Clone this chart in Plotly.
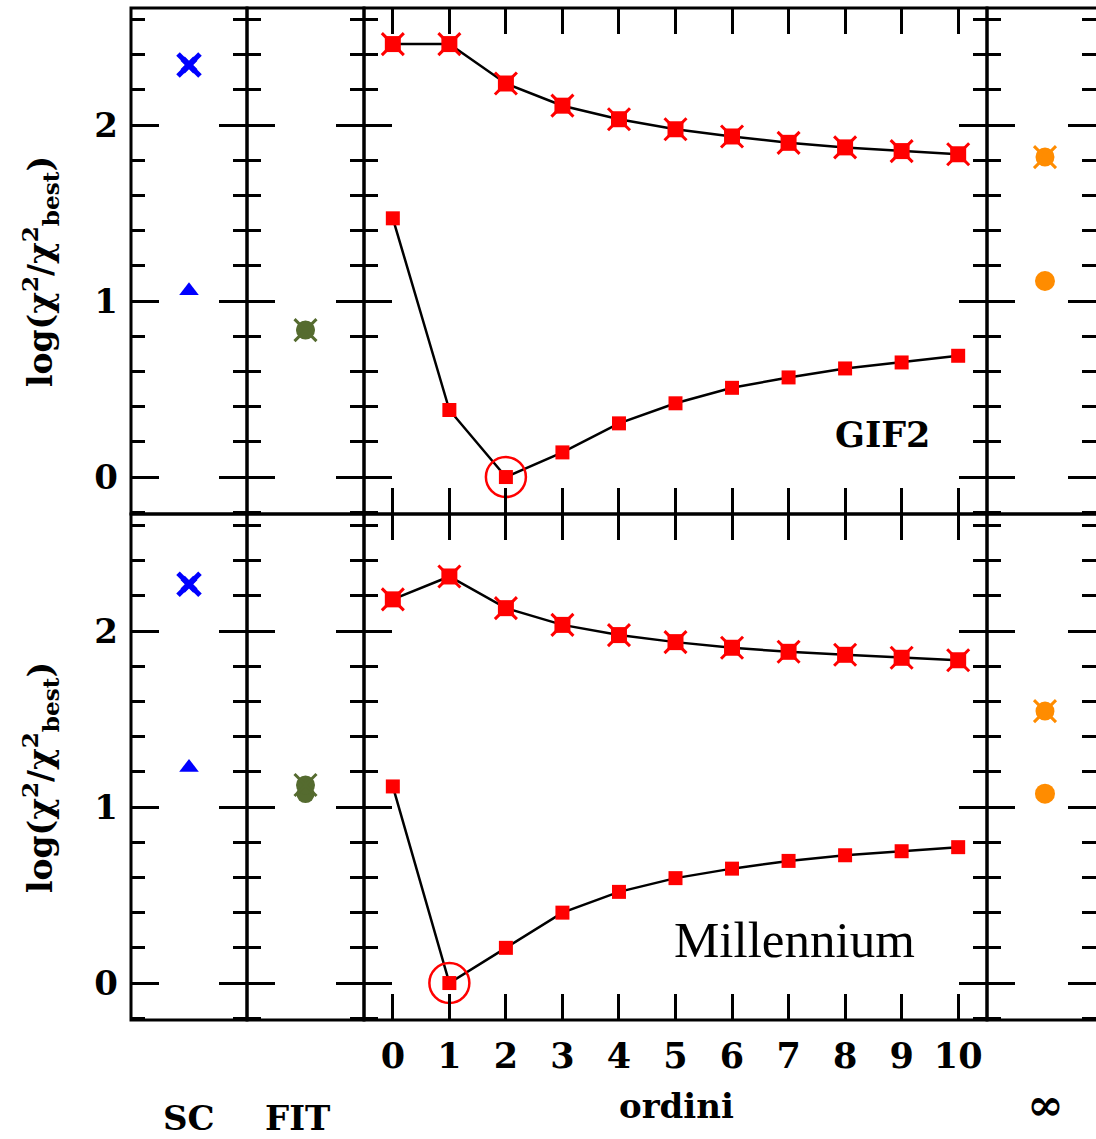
import plotly.graph_objects as go

W, H = 1096, 1139

# ---- data -------------------------------------------------------------
orders = list(range(11))
order_labels = [str(o) for o in orders]

# GIF2 simulation
gif2_upper = [2.460, 2.460, 2.236, 2.110, 2.033, 1.976, 1.935, 1.899, 1.873, 1.852, 1.834]
gif2_lower = [1.470, 0.381, 0.000, 0.140, 0.305, 0.419, 0.507, 0.566, 0.617, 0.651, 0.689]
gif2_best_order = 2
gif2_sc_cross = 2.341
gif2_sc_triangle = 1.058
gif2_fit_xcircle = 0.835
gif2_fit_circle = 0.835
gif2_inf_xcircle = 1.818
gif2_inf_circle = 1.114

# Millennium simulation
mill_upper = [2.180, 2.310, 2.130, 2.035, 1.977, 1.937, 1.905, 1.882, 1.865, 1.848, 1.834]
mill_lower = [1.117, 0.000, 0.200, 0.400, 0.518, 0.596, 0.650, 0.694, 0.726, 0.749, 0.772]
mill_best_order = 1
mill_sc_cross = 2.266
mill_sc_triangle = 1.225
mill_fit_xcircle = 1.125
mill_fit_circle = 1.074
mill_inf_xcircle = 1.545
mill_inf_circle = 1.076

y_title = "log(χ<sup>2</sup>/χ<sup>2</sup><sub>best</sub>)"

# ---- style ------------------------------------------------------------
RED = "#ff0000"
BLUE = "#0000ff"
OLIVE = "#556b2f"
ORANGE = "#ff8c00"
FONT = "DejaVu Serif"
LW = 3


def px_x(x):
    return x / W


def px_y(y):
    return 1 - y / H


fig = go.Figure()

# column domains (pixels): SC, FIT, orders, infinity
col_px = [(131, 247), (247, 364), (364, 987), (987, 1096)]
row_px = [(8, 514), (514, 1020)]
YR = [-0.21, 2.665]


def axis_ids(row, col):
    n = row * 4 + col + 1
    s = "" if n == 1 else str(n)
    return "x" + s, "y" + s, "xaxis" + s, "yaxis" + s


layout_axes = {}
shapes = []
for r in range(2):
    for c in range(4):
        xid, yid, xname, yname = axis_ids(r, c)
        x0, x1 = col_px[c]
        y0, y1 = row_px[r]
        xa = dict(domain=[px_x(x0), px_x(x1)], anchor=yid, showline=False,
                  showgrid=False, zeroline=False, fixedrange=True)
        if c == 2:
            xa.update(range=[-0.51, 10.51], tickmode="array", tickvals=orders,
                      ticktext=order_labels, ticks="inside", ticklen=26,
                      tickwidth=LW, tickcolor="black", mirror="ticks",
                      showticklabels=(r == 1),
                      tickfont=dict(family=FONT, size=35, color="black", weight="bold"),
                      ticklabelstandoff=12)
        elif c == 3:
            # last column runs past the right edge of the page
            xa.update(range=[-0.5, 0.44], showticklabels=False, ticks="")
        else:
            xa.update(range=[-0.5, 0.5], showticklabels=False, ticks="")
        ya = dict(domain=[px_y(y1), px_y(y0)], anchor=xid, range=YR,
                  showline=False, mirror="ticks",
                  tickmode="array", tickvals=[0, 1, 2], ticks="inside",
                  ticklen=28, tickwidth=LW, tickcolor="black",
                  minor=dict(dtick=0.2, tick0=0, ticks="inside", ticklen=14,
                             tickwidth=LW, tickcolor="black"),
                  showgrid=False, zeroline=False, fixedrange=True,
                  showticklabels=(c == 0),
                  tickfont=dict(family=FONT, size=34, color="black", weight="bold"),
                  ticklabelstandoff=12)
        layout_axes[xname] = xa
        layout_axes[yname] = ya
        # panel frame (the last column is open on its right, past the page edge)
        if c < 3:
            shapes.append(dict(type="rect", xref=xid + " domain", yref=yid + " domain",
                               x0=0, x1=1, y0=0, y1=1, layer="above",
                               line=dict(color="black", width=LW)))
        else:
            shapes.append(dict(type="path", xref=xid + " domain", yref=yid + " domain",
                               path="M 1.05,0 L 0,0 L 0,1 L 1.05,1", layer="above",
                               line=dict(color="black", width=LW)))


def add(xid, yid, **kw):
    kw.setdefault("showlegend", False)
    kw.setdefault("cliponaxis", False)
    fig.add_trace(go.Scatter(xaxis=xid, yaxis=yid, **kw))


def sq_x_series(xid, yid, ys):
    add(xid, yid, x=orders, y=ys, mode="lines+markers",
        line=dict(color="black", width=2.5),
        marker=dict(symbol="square", size=16, color=RED))
    add(xid, yid, x=orders, y=ys, mode="markers",
        marker=dict(symbol="x-thin", size=22, line=dict(color=RED, width=3)))


def sq_series(xid, yid, ys, best):
    add(xid, yid, x=orders, y=ys, mode="lines+markers",
        line=dict(color="black", width=2.5),
        marker=dict(symbol="square", size=14, color=RED))
    add(xid, yid, x=[orders[best]], y=[ys[best]], mode="markers",
        marker=dict(symbol="circle-open", size=40, color=RED,
                    line=dict(color=RED, width=2.5)))


def point_xcircle(xid, yid, y, color):
    add(xid, yid, x=[0], y=[y], mode="markers",
        marker=dict(symbol="circle", size=19, color=color))
    add(xid, yid, x=[0], y=[y], mode="markers",
        marker=dict(symbol="x-thin", size=22, line=dict(color=color, width=3)))


def point_circle(xid, yid, y, color, size=19):
    add(xid, yid, x=[0], y=[y], mode="markers",
        marker=dict(symbol="circle", size=size, color=color))


panels = [
    (0, gif2_upper, gif2_lower, gif2_best_order, gif2_sc_cross, gif2_sc_triangle,
     gif2_fit_xcircle, gif2_fit_circle, gif2_inf_xcircle, gif2_inf_circle),
    (1, mill_upper, mill_lower, mill_best_order, mill_sc_cross, mill_sc_triangle,
     mill_fit_xcircle, mill_fit_circle, mill_inf_xcircle, mill_inf_circle),
]

for (r, up, lo, best, sc_x, sc_t, fit_xc, fit_c, inf_xc, inf_c) in panels:
    # SC column
    xid, yid, _, _ = axis_ids(r, 0)
    add(xid, yid, x=[0], y=[sc_x], mode="markers",
        marker=dict(symbol="x", size=15, color=BLUE, line=dict(width=0)))
    add(xid, yid, x=[0], y=[sc_x], mode="markers",
        marker=dict(symbol="x-thin", size=22, line=dict(color=BLUE, width=5)))
    add(xid, yid, x=[0], y=[sc_t], mode="markers",
        marker=dict(symbol="triangle-up", size=17, color=BLUE))
    # FIT column
    xid, yid, _, _ = axis_ids(r, 1)
    point_circle(xid, yid, fit_c, OLIVE, size=18)
    point_xcircle(xid, yid, fit_xc, OLIVE)
    # orders column
    xid, yid, _, _ = axis_ids(r, 2)
    sq_x_series(xid, yid, up)
    sq_series(xid, yid, lo, best)
    # infinity column
    xid, yid, _, _ = axis_ids(r, 3)
    point_xcircle(xid, yid, inf_xc, ORANGE)
    point_circle(xid, yid, inf_c, ORANGE, size=20)

BOLD = dict(family=FONT, size=34, color="black", weight="bold")
annotations = [
    dict(text="GIF2", xref="x3", yref="y3", x=8.67, y=0.24,
         font=dict(family=FONT, size=35, color="black", weight="bold")),
    dict(text="Millennium", xref="x7", yref="y7", x=7.1, y=0.245,
         font=dict(family="Liberation Serif", size=51, color="black")),
    dict(text="SC", x=px_x(189), y=px_y(1118), font=BOLD),
    dict(text="FIT", x=px_x(297), y=px_y(1118), font=BOLD),
    dict(text="ordini", x=px_x(676), y=px_y(1106), font=BOLD),
    dict(text="∞", x=px_x(1045), y=px_y(1104), font=dict(family=FONT, size=44, color="black", weight="bold")),
]
for yc in (272, 778):
    annotations.append(dict(text=y_title, x=px_x(40), y=px_y(yc), textangle=-90,
                            font=dict(family=FONT, size=33, color="black", weight="bold")))
for a in annotations:
    a.setdefault("xref", "paper")
    a.setdefault("yref", "paper")
    a["showarrow"] = False
    a["xanchor"] = "center"
    a["yanchor"] = "middle"

fig.update_layout(
    width=W, height=H, autosize=False,
    margin=dict(l=0, r=0, t=0, b=0),
    paper_bgcolor="white", plot_bgcolor="white",
    annotations=annotations,
    shapes=shapes,
    **layout_axes,
)

fig.write_html("out.html")
